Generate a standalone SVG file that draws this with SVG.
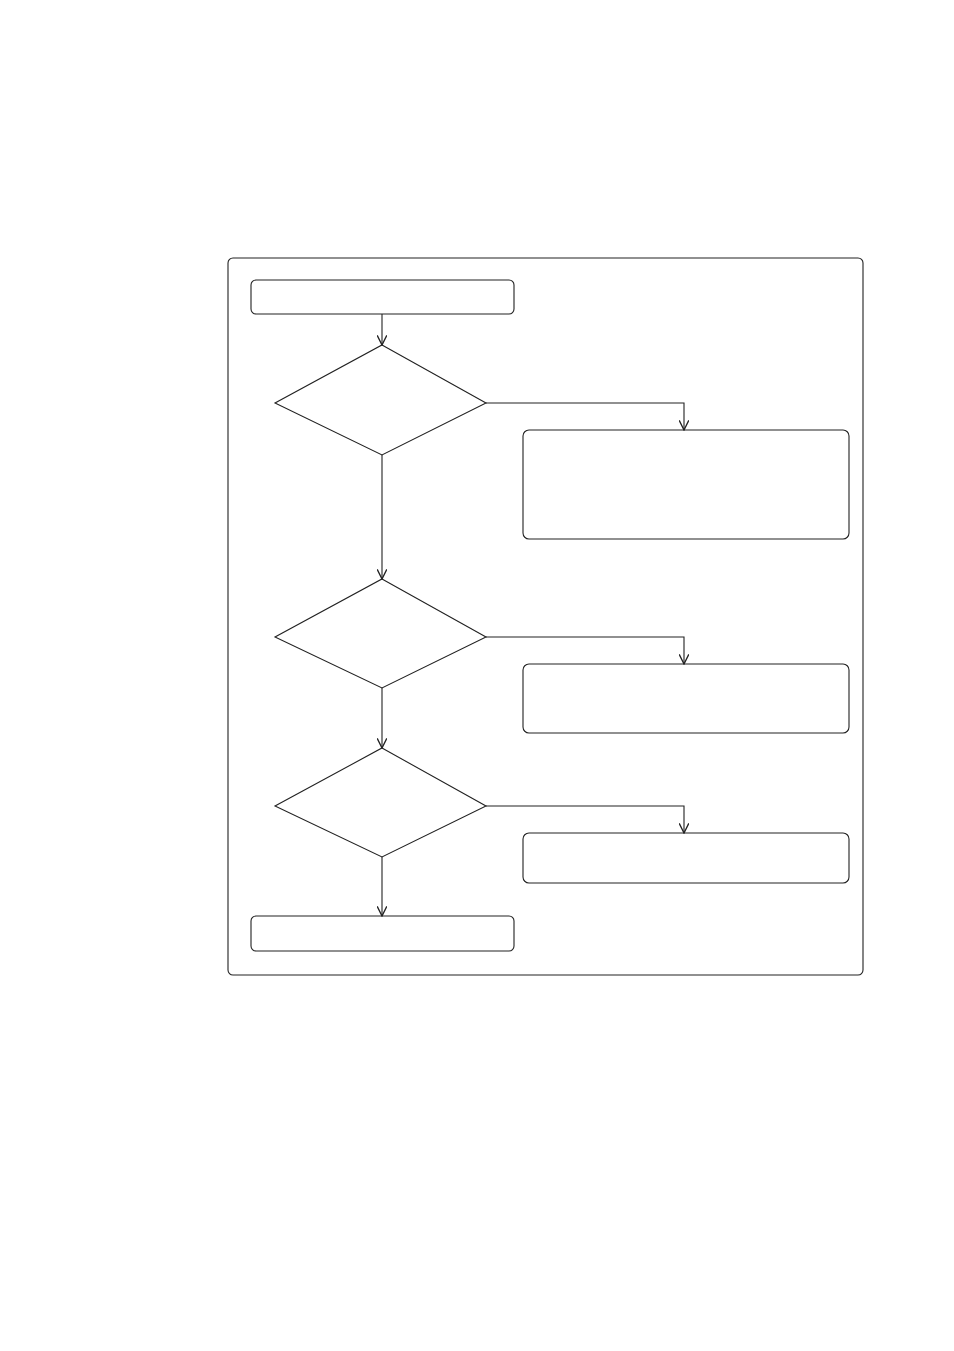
<svg xmlns="http://www.w3.org/2000/svg" width="954" height="1351" viewBox="0 0 954 1351">
<style>
.n{fill:#fff;stroke:#222;stroke-width:1.1}
.c{fill:none;stroke:#222;stroke-width:1.1;marker-end:url(#ah)}
</style>
<defs>
<marker id="ah" markerUnits="userSpaceOnUse" markerWidth="12" markerHeight="10" refX="9" refY="4" orient="auto" viewBox="0 0 10 8">
<path d="M1,0 L9,4 L1,8" fill="none" stroke="#222" stroke-width="1.1"/>
</marker>
</defs>
<rect width="954" height="1351" fill="#fff"/>
<g id="frame"><rect x="228" y="258" width="635" height="717" rx="5" class="n"/></g>
<g id="start"><rect x="251" y="280" width="263" height="34" rx="5" class="n"/></g>
<g id="d1"><polygon points="382,345 486,403 382,455 275,403" class="n"/></g>
<g id="b1"><rect x="523" y="430" width="326" height="109" rx="6" class="n"/></g>
<g id="d2"><polygon points="382,579 486,637 382,688 275,637" class="n"/></g>
<g id="b2"><rect x="523" y="664" width="326" height="69" rx="6" class="n"/></g>
<g id="d3"><polygon points="382,748 486,806 382,857 275,806" class="n"/></g>
<g id="b3"><rect x="523" y="833" width="326" height="50" rx="6" class="n"/></g>
<g id="end"><rect x="251" y="916" width="263" height="35" rx="5" class="n"/></g>
<g id="connectors">
<path d="M382,314 V345" class="c"/>
<path d="M486,403 H684 V430" class="c"/>
<path d="M382,455 V579" class="c"/>
<path d="M486,637 H684 V664" class="c"/>
<path d="M382,688 V748" class="c"/>
<path d="M486,806 H684 V833" class="c"/>
<path d="M382,857 V916" class="c"/>
</g>
</svg>
